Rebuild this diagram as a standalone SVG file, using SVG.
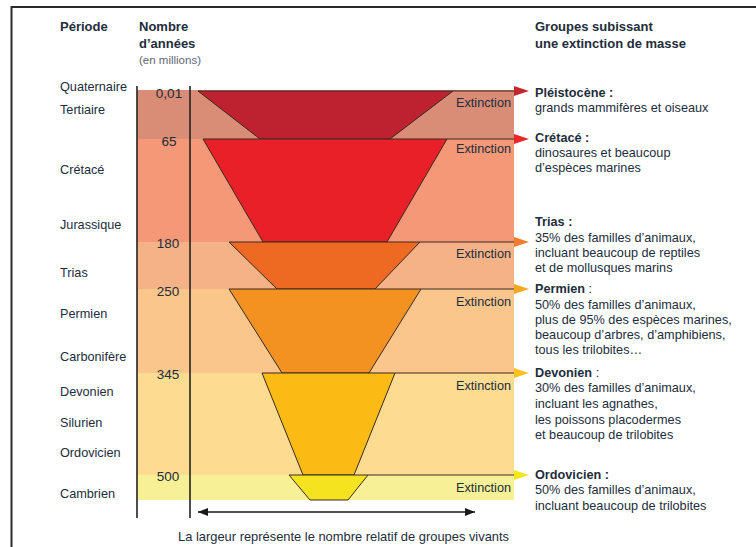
<svg xmlns="http://www.w3.org/2000/svg" width="756" height="547" viewBox="0 0 756 547">
<style>
text{font-family:"Liberation Sans",Arial,sans-serif;fill:#222d3b;font-size:12.7px}
.b{font-weight:bold}
.h{font-weight:bold;font-size:13px}
.num{font-size:13.5px;text-anchor:middle}
.ext{text-anchor:end}
.sub{font-size:11.5px;fill:#5f6873}
.cap{font-size:12.9px}
.tr{stroke:#3a2a22;stroke-width:1;stroke-linejoin:round}
.ln{stroke:#3a2a22;stroke-width:1;fill:none}
.ax{stroke:#222;stroke-width:1.6;fill:none}
</style>
<defs>
<marker id="ah" viewBox="0 0 10 8" refX="10" refY="4" markerWidth="10" markerHeight="8" markerUnits="userSpaceOnUse" orient="auto-start-reverse">
<path d="M0,0 L10,4 L0,8 Z" fill="#1a1a1a"/>
</marker>
</defs>
<rect width="756" height="547" fill="#ffffff"/>
<path d="M11.5,547 V7 H756" fill="none" stroke="#2b2b2b" stroke-width="2"/>

<g id="bands">
<rect x="137" y="90" width="377" height="49" fill="#d98c76"/>
<rect x="137" y="139" width="377" height="103" fill="#f49878"/>
<rect x="137" y="242" width="377" height="47" fill="#f5b287"/>
<rect x="137" y="289" width="377" height="84" fill="#fac68c"/>
<rect x="137" y="373" width="377" height="102" fill="#fddb91"/>
<rect x="137" y="475" width="377" height="25" fill="#f8f096"/>
</g>

<g id="axes">
<line class="ax" x1="137" y1="86" x2="137" y2="518"/>
<line class="ax" x1="190" y1="86" x2="190" y2="518"/>
</g>

<g id="connectors">
<line class="ln" x1="453" y1="91" x2="514" y2="91"/>
<line class="ln" x1="447" y1="139" x2="514" y2="139"/>
<line class="ln" x1="420" y1="242" x2="514" y2="242"/>
<line class="ln" x1="421" y1="289" x2="514" y2="289"/>
<line class="ln" x1="395" y1="373" x2="514" y2="373"/>
<line class="ln" x1="368" y1="475" x2="514" y2="475"/>
<path d="M514,86 L529,91 L514,96 Z" fill="#c0282d"/>
<path d="M514,134 L529,139 L514,144 Z" fill="#e9262a"/>
<path d="M514,237 L529,242 L514,247 Z" fill="#f07d2c"/>
<path d="M514,284 L529,289 L514,294 Z" fill="#f7a823"/>
<path d="M514,368 L529,373 L514,378 Z" fill="#fbc021"/>
<path d="M514,470 L529,475 L514,480 Z" fill="#f3e61c"/>
<line x1="198" y1="512" x2="475" y2="512" stroke="#1a1a1a" stroke-width="1.6" marker-start="url(#ah)" marker-end="url(#ah)"/>
</g>

<g id="quaternaire-tertiaire">
<polygon class="tr" points="198,91 453,91 390,139 260,139" fill="#be2230"/>
<text class="ext" x="511" y="107">Extinction</text>
</g>
<g id="cretace">
<polygon class="tr" points="203,139 447,139 387,242 263,242" fill="#e92027"/>
<text class="ext" x="511" y="153">Extinction</text>
</g>
<g id="trias">
<polygon class="tr" points="229,242 420,242 375,289 277,289" fill="#ee6a23"/>
<text class="ext" x="511" y="258">Extinction</text>
</g>
<g id="permien">
<polygon class="tr" points="229,289 421,289 369,373 282,373" fill="#f39221"/>
<text class="ext" x="511" y="306">Extinction</text>
</g>
<g id="devonien">
<polygon class="tr" points="262,373 395,373 354,475 303,475" fill="#fbbb14"/>
<text class="ext" x="511" y="390">Extinction</text>
</g>
<g id="ordovicien">
<polygon class="tr" points="289,475 368,475 348,500 310,500" fill="#f4e31e"/>
<text class="ext" x="511" y="492">Extinction</text>
</g>

<g id="headers">
<text class="h" x="60" y="31">Période</text>
<text class="h" x="139" y="31">Nombre</text>
<text class="h" x="139" y="48">d’années</text>
<text class="sub" x="139" y="64">(en millions)</text>
<text class="h" x="535" y="31">Groupes subissant</text>
<text class="h" x="535" y="48">une extinction de masse</text>
</g>

<g id="periods">
<text x="60" y="91">Quaternaire</text>
<text x="60" y="114">Tertiaire</text>
<text x="60" y="174">Crétacé</text>
<text x="60" y="229">Jurassique</text>
<text x="60" y="277">Trias</text>
<text x="60" y="318">Permien</text>
<text x="60" y="361">Carbonifère</text>
<text x="60" y="396">Devonien</text>
<text x="60" y="427">Silurien</text>
<text x="60" y="457">Ordovicien</text>
<text x="60" y="498">Cambrien</text>
</g>

<g id="years">
<text class="num" x="169" y="98">0,01</text>
<text class="num" x="169" y="146">65</text>
<text class="num" x="168" y="248">180</text>
<text class="num" x="168" y="296">250</text>
<text class="num" x="168" y="379">345</text>
<text class="num" x="168" y="481">500</text>
</g>

<g id="groups">
<text x="535" y="97"><tspan class="b">Pléistocène :</tspan></text>
<text x="535" y="112">grands mammifères et oiseaux</text>
<text x="535" y="142"><tspan class="b">Crétacé :</tspan></text>
<text x="535" y="157">dinosaures et beaucoup</text>
<text x="535" y="172">d’espèces marines</text>
<text x="535" y="226"><tspan class="b">Trias :</tspan></text>
<text x="535" y="242">35% des familles d’animaux,</text>
<text x="535" y="257">incluant beaucoup de reptiles</text>
<text x="535" y="272">et de mollusques marins</text>
<text x="535" y="293"><tspan class="b">Permien</tspan> :</text>
<text x="535" y="309">50% des familles d’animaux,</text>
<text x="535" y="324">plus de 95% des espèces marines,</text>
<text x="535" y="339">beaucoup d’arbres, d’amphibiens,</text>
<text x="535" y="354">tous les trilobites…</text>
<text x="535" y="377"><tspan class="b">Devonien</tspan> :</text>
<text x="535" y="392">30% des familles d’animaux,</text>
<text x="535" y="408">incluant les agnathes,</text>
<text x="535" y="424">les poissons placodermes</text>
<text x="535" y="439">et beaucoup de trilobites</text>
<text x="535" y="479"><tspan class="b">Ordovicien :</tspan></text>
<text x="535" y="494">50% des familles d’animaux,</text>
<text x="535" y="510">incluant beaucoup de trilobites</text>
</g>

<text class="cap" x="178" y="541">La largeur représente le nombre relatif de groupes vivants</text>
</svg>
